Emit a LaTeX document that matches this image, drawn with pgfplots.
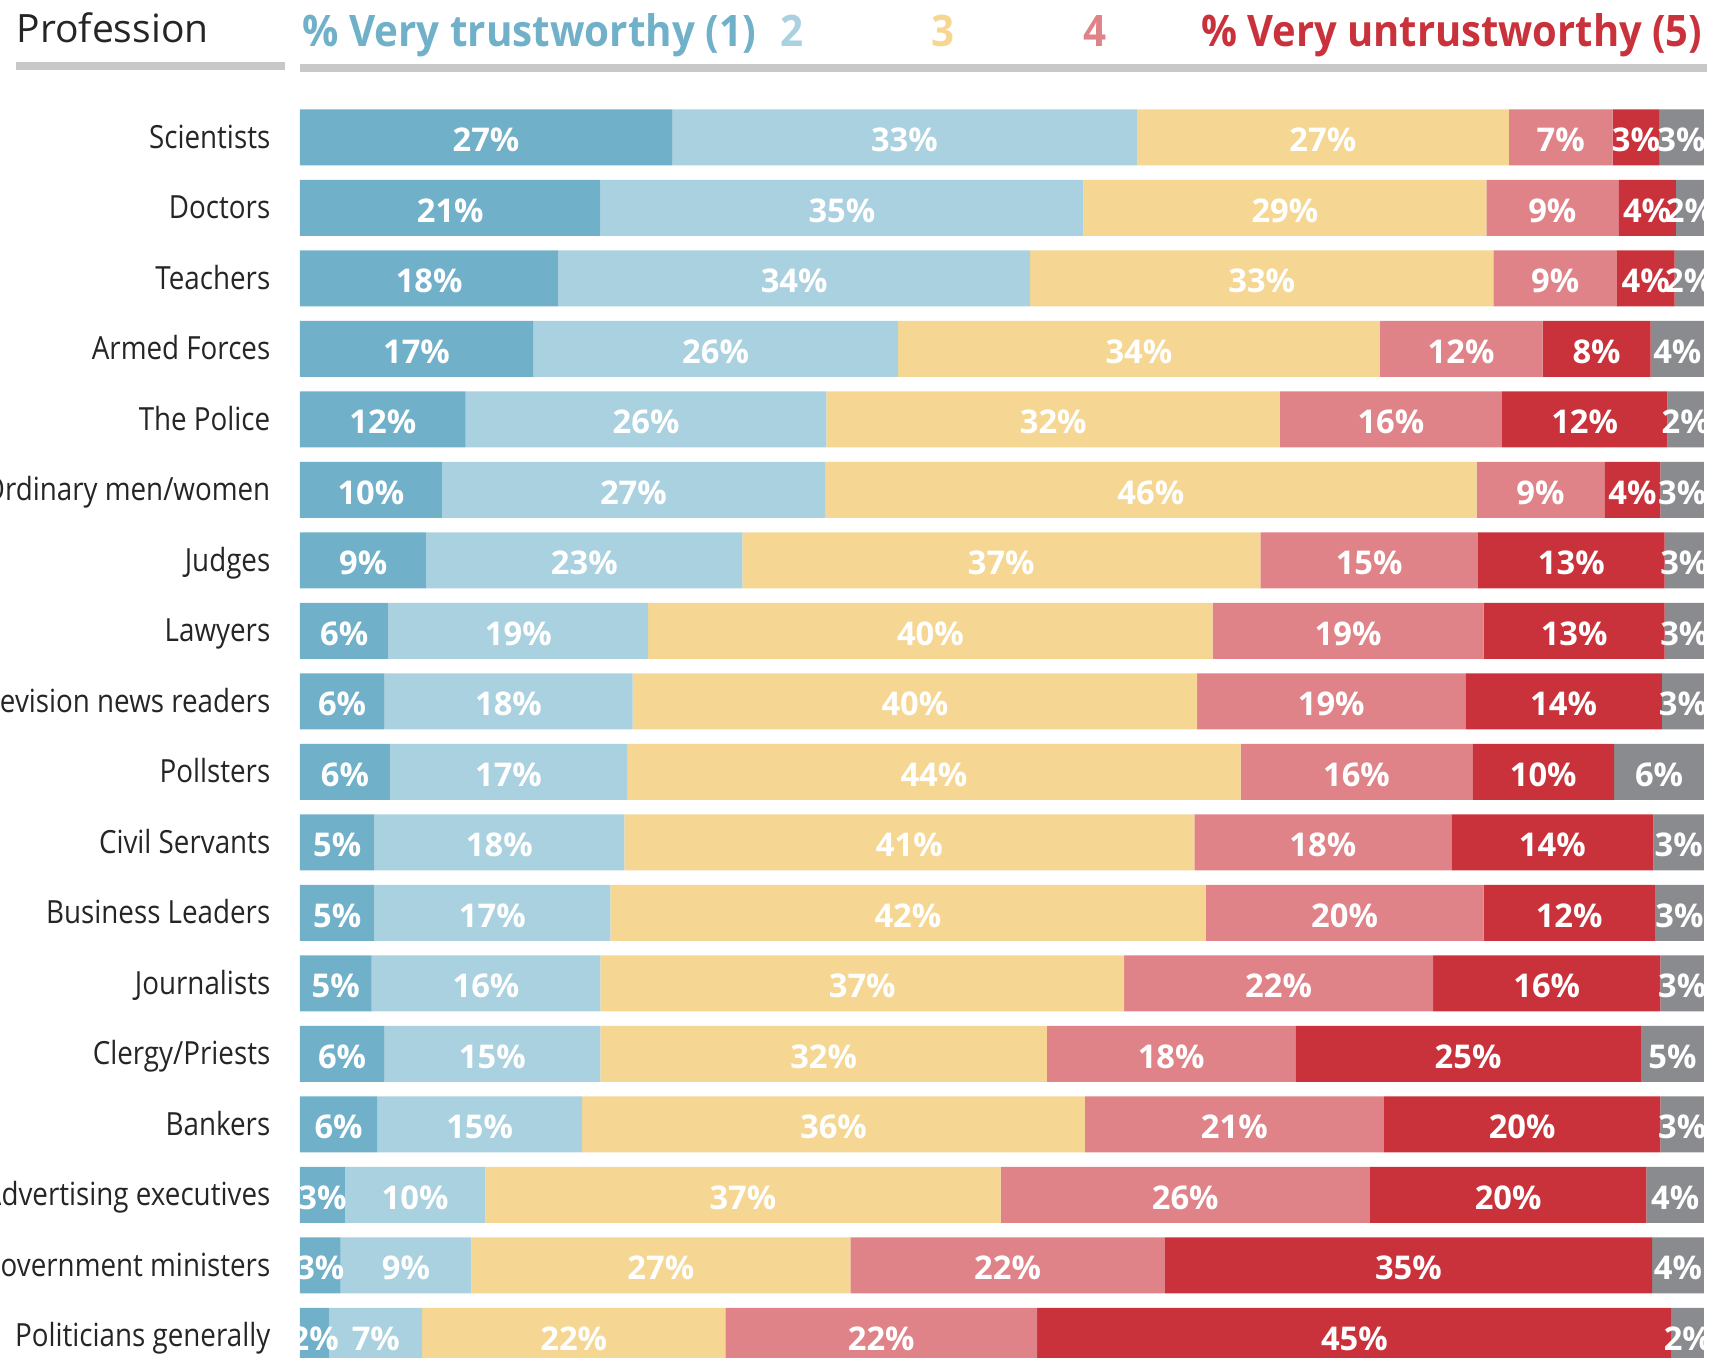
\documentclass[border=0pt]{standalone}
\usepackage{pgfplots}
\pgfplotsset{compat=1.18}
\usepackage{graphicx}
\usepackage{fontspec}
\setmainfont{Open Sans}
\newcommand\cl[1]{\scalebox{0.87}[1]{#1}}
\definecolor{c1}{RGB}{113,176,201}
\definecolor{c2}{RGB}{170,209,223}
\definecolor{c3}{RGB}{245,215,147}
\definecolor{c4}{RGB}{224,131,137}
\definecolor{c5}{RGB}{201,50,59}
\definecolor{c6}{RGB}{137,139,142}
\definecolor{txt}{RGB}{37,37,37}
\definecolor{linegrey}{RGB}{200,200,200}
\begin{document}
\begin{tikzpicture}
\useasboundingbox (0,0) rectangle (17.28,13.58);
\clip (0,0) rectangle (17.28,13.58);
\begin{axis}[
  at={(3.00cm,-0.1325cm)}, anchor=south west,
  scale only axis, width=14.04cm, height=12.69cm,
  xbar stacked, bar width=0.56cm,
  xmin=0, xmax=100, ymin=-0.5, ymax=17.5, y dir=reverse,
  axis line style={draw=none}, major tick length=0pt,
  xtick=\empty, ytick={0,...,17},
  yticklabels={\cl{Scientists}, \cl{Doctors}, \cl{Teachers}, \cl{Armed Forces}, \cl{The Police}, \cl{Ordinary men/women}, \cl{Judges}, \cl{Lawyers}, \cl{Television news readers}, \cl{Pollsters}, \cl{Civil Servants}, \cl{Business Leaders}, \cl{Journalists}, \cl{Clergy/Priests}, \cl{Bankers}, \cl{Advertising executives}, \cl{Government ministers}, \cl{Politicians generally}},
  yticklabel style={font=\fontsize{9.08}{10}\selectfont, text=txt, anchor=base east, inner sep=0pt, xshift=-0.29cm, yshift=-0.11cm},
  point meta=explicit symbolic,
  nodes near coords={\smash{\makebox[0pt]{\pgfplotspointmeta\%}}},
  every node near coord/.append style={inner sep=0pt, text=white, font=\bfseries\fontsize{9.3}{10}\selectfont, yshift=-0.143cm},
]
\addplot[fill=c1, draw=none] coordinates {
 (26.5,0)[27] (21.4,1)[21] (18.4,2)[18] (16.6,3)[17] (11.8,4)[12] (10.1,5)[10]
 (9.0,6)[9] (6.3,7)[6] (6.0,8)[6] (6.4,9)[6] (5.3,10)[5] (5.3,11)[5]
 (5.1,12)[5] (6.0,13)[6] (5.5,14)[6] (3.2,15)[3] (2.9,16)[3] (2.1,17)[2]};
\addplot[fill=c2, draw=none] coordinates {
 (33.1,0)[33] (34.4,1)[35] (33.6,2)[34] (26.0,3)[26] (25.7,4)[26] (27.3,5)[27]
 (22.5,6)[23] (18.5,7)[19] (17.7,8)[18] (16.9,9)[17] (17.8,10)[18] (16.8,11)[17]
 (16.3,12)[16] (15.4,13)[15] (14.6,14)[15] (10.0,15)[10] (9.3,16)[9] (6.6,17)[7]};
\addplot[fill=c3, draw=none] coordinates {
 (26.5,0)[27] (28.7,1)[29] (33.0,2)[33] (34.3,3)[34] (32.3,4)[32] (46.4,5)[46]
 (36.9,6)[37] (40.2,7)[40] (40.2,8)[40] (43.7,9)[44] (40.6,10)[41] (42.4,11)[42]
 (37.3,12)[37] (31.8,13)[32] (35.8,14)[36] (36.7,15)[37] (27.0,16)[27] (21.6,17)[22]};
\addplot[fill=c4, draw=none] coordinates {
 (7.4,0)[7] (9.4,1)[9] (8.8,2)[9] (11.6,3)[12] (15.8,4)[16] (9.1,5)[9]
 (15.5,6)[15] (19.3,7)[19] (19.1,8)[19] (16.5,9)[16] (18.3,10)[18] (19.8,11)[20]
 (22.0,12)[22] (17.7,13)[18] (21.3,14)[21] (26.3,15)[26] (22.4,16)[22] (22.2,17)[22]};
\addplot[fill=c5, draw=none] coordinates {
 (3.3,0)[3] (4.1,1)[4] (4.1,2)[4] (7.7,3)[8] (11.8,4)[12] (4.0,5)[4]
 (13.3,6)[13] (12.9,7)[13] (14.0,8)[14] (10.1,9)[10] (14.4,10)[14] (12.2,11)[12]
 (16.2,12)[16] (24.6,13)[25] (19.7,14)[20] (19.7,15)[20] (34.7,16)[35] (45.2,17)[45]};
\addplot[fill=c6, draw=none] coordinates {
 (3.2,0)[3] (2.0,1)[2] (2.1,2)[2] (3.8,3)[4] (2.6,4)[2] (3.1,5)[3]
 (2.8,6)[3] (2.8,7)[3] (3.0,8)[3] (6.4,9)[6] (3.6,10)[3] (3.5,11)[3]
 (3.1,12)[3] (4.5,13)[5] (3.1,14)[3] (4.1,15)[4] (3.7,16)[4] (2.3,17)[2]};
\end{axis}
\node[anchor=base west, inner sep=0pt, font=\fontsize{11.1}{13}\selectfont, text=txt] at (0.16,13.153) {Profession};
\fill[linegrey] (0.16,12.88) rectangle (2.85,12.957);
\fill[linegrey] (3.00,12.86) rectangle (17.07,12.94);
\node[anchor=base west, inner sep=0pt, font=\bfseries\fontsize{12.35}{14}\selectfont, text=c1] at (3.017,13.113) {\scalebox{0.93}[1]{\% Very trustworthy (1)}};
\node[anchor=base west, inner sep=0pt, font=\bfseries\fontsize{12.35}{14}\selectfont, text=c2] at (7.80,13.113) {\scalebox{0.93}[1]{2}};
\node[anchor=base west, inner sep=0pt, font=\bfseries\fontsize{12.35}{14}\selectfont, text=c3] at (9.31,13.113) {\scalebox{0.93}[1]{3}};
\node[anchor=base west, inner sep=0pt, font=\bfseries\fontsize{12.35}{14}\selectfont, text=c4] at (10.83,13.113) {\scalebox{0.93}[1]{4}};
\node[anchor=base east, inner sep=0pt, font=\bfseries\fontsize{12.35}{14}\selectfont, text=c5] at (17.03,13.113) {\scalebox{0.92}[1]{\% Very untrustworthy (5)}};
\end{tikzpicture}
\end{document}
